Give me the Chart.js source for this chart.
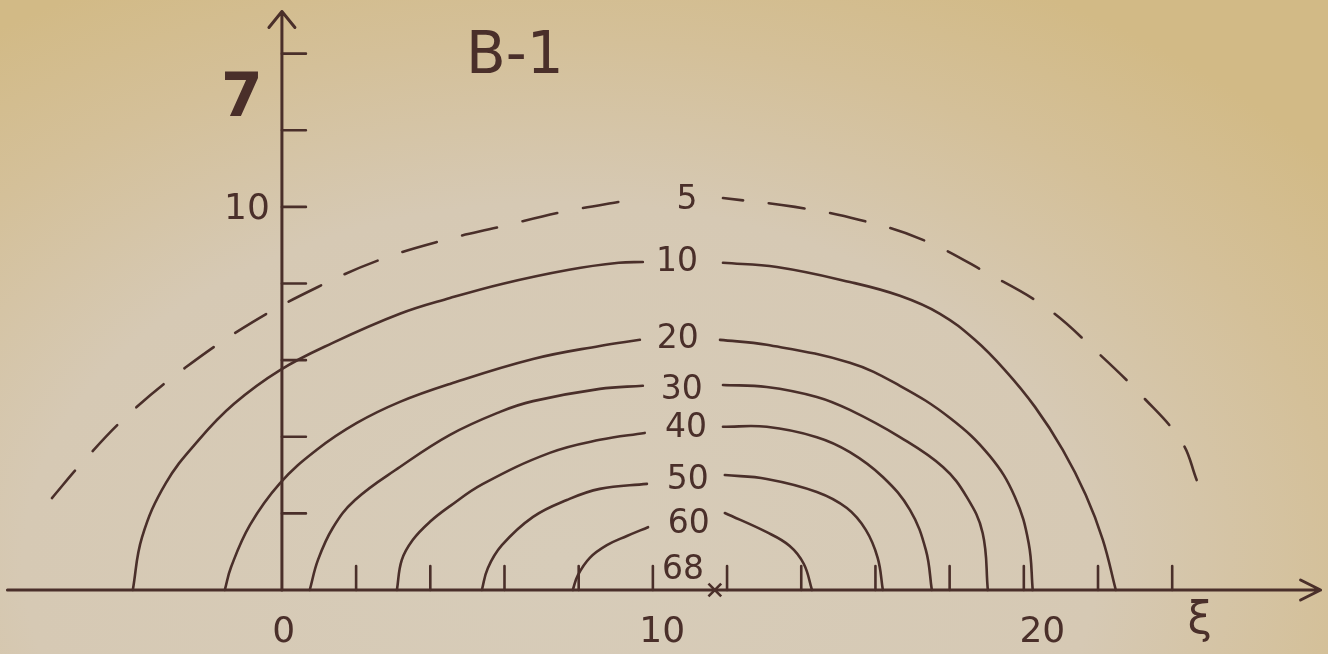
<!DOCTYPE html>
<html>
<head>
<meta charset="utf-8">
<script src="https://cdn.jsdelivr.net/npm/chart.js@4.4.1/dist/chart.umd.min.js"></script>
<style>
  html, body { margin: 0; padding: 0; background: #d5c6a6; overflow: hidden; }
  #wrap { width: 1328px; height: 654px; }
</style>
</head>
<body>
<div id="wrap"><canvas id="chartB1" width="1328" height="654"></canvas></div>
<script>
const iso5Left   = [[-6.20,2.40],[-5.39,3.32],[-4.15,4.57],[-2.61,5.80],[-0.78,7.00],[0.97,7.91],[2.64,8.62],[4.39,9.14],[5.88,9.48],[7.57,9.87],[9.38,10.18]];
const iso5Right  = [[11.89,10.23],[13.83,10.00],[15.58,9.66],[17.28,9.14],[19.00,8.28],[20.62,7.36],[21.91,6.27],[23.21,5.04],[24.26,3.86],[24.66,2.87]];
const iso10Left  = [[-4.02,0],[-3.77,1.38],[-3.13,2.79],[-2.24,3.92],[-1.29,4.86],[-0.05,5.74],[1.37,6.45],[3.18,7.21],[4.53,7.62],[5.93,7.99],[7.74,8.36],[9.08,8.54],[9.73,8.56]];
const iso10Right = [[11.89,8.54],[13.34,8.43],[15.31,8.04],[16.66,7.68],[17.74,7.21],[18.68,6.53],[19.49,5.74],[20.30,4.78],[21.05,3.66],[21.67,2.48],[22.13,1.31],[22.48,0]];
const iso20Left  = [[-1.54,0],[-1.37,0.60],[-0.86,1.70],[-0.05,2.79],[0.94,3.66],[2.02,4.36],[3.18,4.91],[4.53,5.38],[6.77,6.03],[8.57,6.37],[9.65,6.53]];
const iso20Right = [[11.81,6.53],[13.07,6.40],[15.31,5.93],[16.66,5.33],[18.01,4.49],[19.08,3.50],[19.76,2.43],[20.13,1.23],[20.24,0]];
const iso30Left  = [[0.75,0],[0.97,0.78],[1.37,1.62],[1.97,2.35],[3.18,3.21],[4.53,4.05],[5.88,4.65],[6.77,4.93],[8.57,5.25],[9.73,5.33]];
const iso30Right = [[11.89,5.35],[13.07,5.30],[14.42,5.04],[15.31,4.70],[16.66,3.99],[17.82,3.21],[18.46,2.43],[18.89,1.49],[19.03,0]];
const iso40Left  = [[3.10,0],[3.23,0.78],[3.53,1.31],[3.99,1.78],[4.53,2.19],[5.42,2.77],[7.22,3.58],[8.57,3.92],[9.78,4.10]];
const iso40Right = [[11.89,4.26],[13.07,4.26],[14.42,3.99],[15.31,3.60],[16.20,2.95],[16.93,2.09],[17.36,1.04],[17.52,0]];
const iso50Left  = [[5.39,0],[5.55,0.57],[5.93,1.17],[6.77,1.91],[7.68,2.35],[8.57,2.64],[9.84,2.77]];
const iso50Right = [[11.94,3.00],[13.07,2.90],[14.42,2.56],[15.23,2.14],[15.74,1.57],[16.06,0.84],[16.20,0]];
const iso60Left  = [[7.84,0],[7.98,0.39],[8.30,0.84],[8.76,1.17],[9.30,1.41],[9.87,1.64]];
const iso60Right = [[11.94,2.01],[13.07,1.51],[13.69,1.15],[14.07,0.68],[14.29,0]];

// contour labels and where they sit
const labelText = ['5', '10', '20', '30', '40', '50', '60', '68'];
const labelXi   = [10.92, 10.65, 10.67, 10.78, 10.89, 10.94, 10.97, 10.81];
const labelEta  = [10.18, 8.54, 6.53, 5.22, 4.23, 2.87, 1.70, 0.52];

// maximum marker
const peakXi  = [11.67];
const peakEta = [0];

// axes
const xiTicks  = [2, 4, 6, 8, 10, 12, 14, 16, 18, 20, 22, 24];
const etaTicks = [2, 4, 6, 8, 10, 12, 14];
const xiTickLabels   = ['0', '10', '20'];
const xiTickLabelAt  = [0.05, 10.25, 20.5];
const etaTickLabels  = ['10'];
const etaTickLabelAt = [10];

const ink = '#4a2f2a';
const FONT = '"DejaVu Sans", sans-serif';

function pts(arr) { return arr.map(p => ({ x: p[0], y: p[1] })); }

function isoHalf(arr, dashed) {
    return {
        data: pts(arr),
        showLine: true,
        borderColor: ink,
        borderWidth: 2.6,
        borderDash: dashed ? [36, 26] : [],
        borderCapStyle: 'round',
        tension: 0.4,
        pointRadius: 0,
        clip: false
    };
}

// ---- background paper ----
const paperPlugin = {
    id: 'paper',
    beforeDraw(chart) {
        const { ctx } = chart;
        ctx.save();
        ctx.translate(560, 560);
        ctx.scale(1.5, 1);
        let g = ctx.createRadialGradient(0, 0, 0, 0, 0, 650);
        g.addColorStop(0, '#d7ccb9');
        g.addColorStop(0.55, '#d6c9b4');
        g.addColorStop(0.8, '#d4c099');
        g.addColorStop(1, '#d2ba86');
        ctx.fillStyle = g;
        ctx.fillRect(-600, -700, 1300, 900);
        ctx.restore();
    }
};

// ---- hand-drawn style axes ----
const axesPlugin = {
    id: 'handAxes',
    beforeDatasetsDraw(chart) {
        const { ctx, scales: { x, y } } = chart;
        let x0 = x.getPixelForValue(0), y0 = y.getPixelForValue(0);
        ctx.save();
        ctx.strokeStyle = ink;
        ctx.lineWidth = 3;
        ctx.lineCap = 'round';
        ctx.lineJoin = 'round';

        // xi axis + arrow
        let xEnd = x.getPixelForValue(28.0);
        ctx.beginPath();
        ctx.moveTo(x.getPixelForValue(-7.4), y0);
        ctx.lineTo(xEnd, y0);
        ctx.moveTo(xEnd - 20, y0 - 10);
        ctx.lineTo(xEnd, y0);
        ctx.lineTo(xEnd - 20, y0 + 10);
        ctx.stroke();

        // eta axis + arrow
        let yEnd = y.getPixelForValue(15.1);
        ctx.beginPath();
        ctx.moveTo(x0, y0);
        ctx.lineTo(x0, yEnd);
        ctx.moveTo(x0 - 13, yEnd + 16);
        ctx.lineTo(x0, yEnd);
        ctx.lineTo(x0 + 13, yEnd + 16);
        ctx.stroke();

        // ticks
        ctx.lineWidth = 2.6;
        ctx.beginPath();
        xiTicks.forEach(v => {
            let px = x.getPixelForValue(v);
            ctx.moveTo(px, y0);
            ctx.lineTo(px, y0 - 24);
        });
        etaTicks.forEach(v => {
            let py = y.getPixelForValue(v);
            ctx.moveTo(x0, py);
            ctx.lineTo(x0 + 24, py);
        });
        ctx.stroke();

        // tick labels
        ctx.fillStyle = ink;
        ctx.font = '36px ' + FONT;
        ctx.textAlign = 'center';
        ctx.textBaseline = 'middle';
        xiTickLabels.forEach((t, i) => {
            ctx.fillText(t, x.getPixelForValue(xiTickLabelAt[i]), y0 + 43);
        });
        ctx.textAlign = 'right';
        etaTickLabels.forEach((t, i) => {
            ctx.fillText(t, x0 - 12, y.getPixelForValue(etaTickLabelAt[i]) + 3);
        });

        // axis names and figure tag
        ctx.textAlign = 'center';
        ctx.font = 'bold 60px ' + FONT;
        ctx.fillText('7', x.getPixelForValue(-1.08), y.getPixelForValue(12.79));
        ctx.font = '44px ' + FONT;
        ctx.fillText('ξ', x.getPixelForValue(24.74), y0 + 32);
        ctx.font = '58px ' + FONT;
        ctx.fillText('B-1', x.getPixelForValue(6.28), y.getPixelForValue(13.9));
        ctx.restore();
    },
    afterDatasetsDraw(chart) {
        const { ctx, scales: { x, y } } = chart;
        ctx.save();
        ctx.fillStyle = ink;
        ctx.font = '33px ' + FONT;
        ctx.textAlign = 'center';
        ctx.textBaseline = 'middle';
        labelText.forEach((t, i) => {
            ctx.fillText(t, x.getPixelForValue(labelXi[i]), y.getPixelForValue(labelEta[i]));
        });
        ctx.restore();
    }
};

const datasets = [
    isoHalf(iso5Left, true),
    isoHalf(iso5Right.slice().reverse(), true),
    isoHalf(iso10Left), isoHalf(iso10Right),
    isoHalf(iso20Left), isoHalf(iso20Right),
    isoHalf(iso30Left), isoHalf(iso30Right),
    isoHalf(iso40Left), isoHalf(iso40Right),
    isoHalf(iso50Left), isoHalf(iso50Right),
    isoHalf(iso60Left), isoHalf(iso60Right),
    {
        data: peakXi.map((v, i) => ({ x: v, y: peakEta[i] })),
        showLine: false,
        pointStyle: 'crossRot',
        pointRadius: 9,
        borderColor: ink,
        borderWidth: 2.6,
        clip: false
    }
];

new Chart(document.getElementById('chartB1'), {
    type: 'scatter',
    data: { datasets: datasets },
    options: {
        responsive: false,
        animation: false,
        devicePixelRatio: 1,
        layout: { padding: 0, autoPadding: false },
        plugins: { legend: { display: false }, tooltip: { enabled: false } },
        scales: {
            x: { type: 'linear', min: -7.6, max: 28.2, display: false },
            y: { type: 'linear', min: -1.67, max: 15.4, display: false }
        }
    },
    plugins: [paperPlugin, axesPlugin]
});
</script>
</body>
</html>
